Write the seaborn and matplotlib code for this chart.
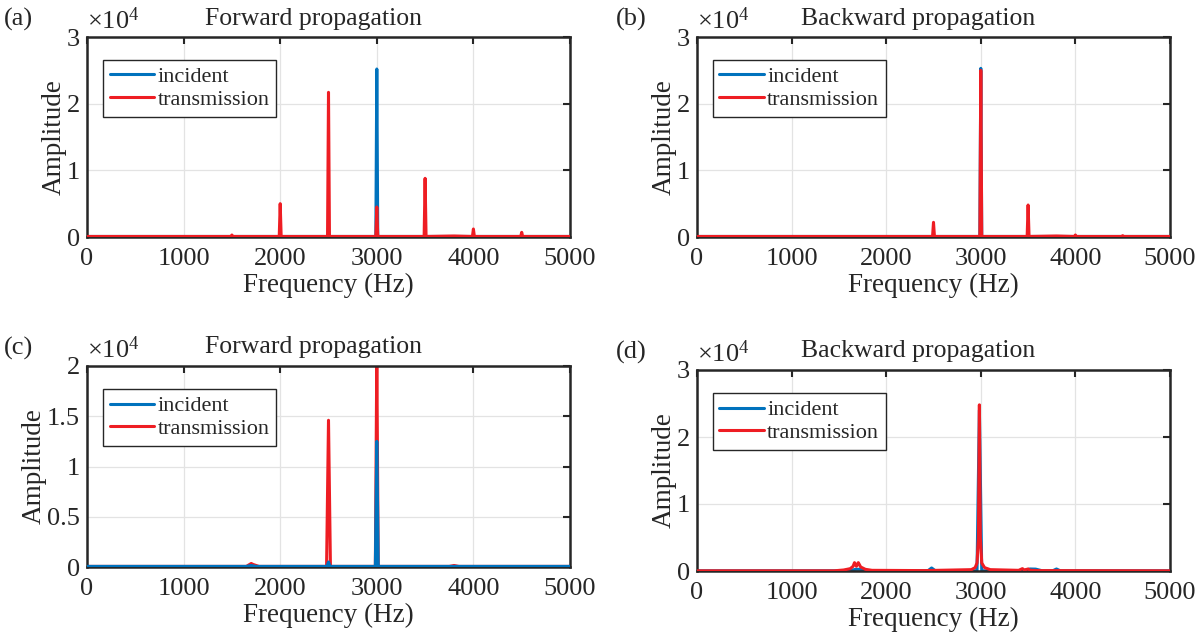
import matplotlib
matplotlib.use("Agg")
import matplotlib.pyplot as plt
import seaborn as sns
import numpy as np
import pandas as pd
from matplotlib.ticker import FuncFormatter

sns.set_theme(style="white")
plt.rcParams['font.family'] = ['Liberation Serif', 'DejaVu Serif']
plt.rcParams['mathtext.fontset'] = 'custom'
plt.rcParams['mathtext.rm'] = 'Liberation Serif'

# ---------------- data (amplitude, raw units) ----------------
# (a) forward propagation
freq_a_inc = [0, 2990, 3000, 3010, 5000]
amp_a_inc = [80, 80, 25200, 80, 80]
freq_a_tr = [0, 1490, 1500, 1510, 1990, 2000, 2010, 2490, 2500, 2510, 2990, 3000, 3010,
             3490, 3500, 3510, 3800, 3990, 4000, 4010, 4490, 4500, 4510, 5000]
amp_a_tr = [80, 80, 300, 80, 80, 5000, 80, 80, 21700, 80, 80, 4500, 80,
            80, 8800, 80, 150, 80, 1200, 80, 80, 700, 80, 80]

# (b) backward propagation
freq_b_inc = [0, 2990, 3000, 3010, 5000]
amp_b_inc = [80, 80, 25300, 80, 80]
freq_b_tr = [0, 2490, 2500, 2510, 2990, 3000, 3010, 3490, 3500, 3510, 3800,
             3990, 4000, 4010, 4490, 4500, 4510, 5000]
amp_b_tr = [80, 80, 2200, 80, 80, 25000, 80, 80, 4800, 80, 150,
            80, 300, 80, 80, 200, 80, 80]

# (c) forward propagation
freq_c_inc = [0, 1650, 1700, 1750, 2485, 2500, 2515, 2985, 3000, 3015, 5000]
amp_c_inc = [60, 60, 150, 60, 60, 500, 60, 60, 12500, 60, 60]
freq_c_tr = [0, 1650, 1700, 1720, 1780, 2480, 2500, 2520, 2985, 3000, 3015,
             3750, 3800, 3850, 5000]
amp_c_tr = [60, 60, 350, 250, 60, 60, 14600, 60, 60, 21000, 60,
            60, 150, 60, 60]

# (d) backward propagation
freq_d_inc = [0, 1600, 1680, 1720, 1800, 2440, 2480, 2520, 2960, 2985, 3010,
              3450, 3520, 3580, 3650, 3760, 3800, 3840, 5000]
amp_d_inc = [30, 30, 250, 250, 30, 30, 450, 30, 30, 24000, 30,
             30, 300, 280, 30, 30, 300, 30, 30]
freq_d_tr = [0, 1450, 1550, 1620, 1650, 1665, 1685, 1705, 1730, 1780, 1850,
             2400, 2900, 2940, 2960, 2975, 2985, 2995, 3010, 3040, 3100,
             3400, 3440, 3460, 3500, 3520, 3600, 5000]
amp_d_tr = [30, 30, 150, 350, 700, 1250, 700, 1250, 600, 250, 100,
            60, 200, 500, 1200, 5000, 24800, 5000, 1200, 500, 200,
            100, 350, 150, 300, 120, 60, 30]

panels = [
    dict(tag='(a)', title='Forward propagation', inc=(freq_a_inc, amp_a_inc),
         tr=(freq_a_tr, amp_a_tr), ymax=30000, yticks=[0, 10000, 20000, 30000], inc_on_top=False),
    dict(tag='(b)', title='Backward propagation', inc=(freq_b_inc, amp_b_inc),
         tr=(freq_b_tr, amp_b_tr), ymax=30000, yticks=[0, 10000, 20000, 30000], inc_on_top=False),
    dict(tag='(c)', title='Forward propagation', inc=(freq_c_inc, amp_c_inc),
         tr=(freq_c_tr, amp_c_tr), ymax=20000, yticks=[0, 5000, 10000, 15000, 20000], inc_on_top=True),
    dict(tag='(d)', title='Backward propagation', inc=(freq_d_inc, amp_d_inc),
         tr=(freq_d_tr, amp_d_tr), ymax=30000, yticks=[0, 10000, 20000, 30000], inc_on_top=False),
]

c_inc = '#0072BD'
c_tr = '#EE1D23'

fig = plt.figure(figsize=(12.04, 6.37), dpi=100)
rects = [
    [87 / 1204, 1 - 237 / 637, 483 / 1204, 200 / 637],
    [697 / 1204, 1 - 237 / 637, 473 / 1204, 200 / 637],
    [87 / 1204, 1 - 567 / 637, 483 / 1204, 201 / 637],
    [697 / 1204, 1 - 571 / 637, 473 / 1204, 201 / 637],
]

for p, r in zip(panels, rects):
    ax = fig.add_axes(r)
    df_inc = pd.DataFrame({'Frequency': p['inc'][0], 'Amplitude': p['inc'][1]})
    df_tr = pd.DataFrame({'Frequency': p['tr'][0], 'Amplitude': p['tr'][1]})
    z_inc, z_tr = (3, 2) if p['inc_on_top'] else (2, 3)
    sns.lineplot(data=df_inc, x='Frequency', y='Amplitude', ax=ax, color=c_inc,
                 lw=2.2, label='incident', zorder=z_inc)
    sns.lineplot(data=df_tr, x='Frequency', y='Amplitude', ax=ax, color=c_tr,
                 lw=2.2, label='transmission', zorder=z_tr)

    ax.set_xlim(0, 5000)
    ax.set_ylim(0, p['ymax'])
    ax.set_xticks([0, 1000, 2000, 3000, 4000, 5000])
    ax.set_yticks(p['yticks'])
    ax.yaxis.set_major_formatter(FuncFormatter(lambda v, pos: f'{v / 1e4:g}'))
    ax.tick_params(direction='in', length=5, width=1.5, labelsize=19, color='#262626',
                   top=True, right=True)
    ax.tick_params(axis='x', pad=8)
    ax.tick_params(axis='y', pad=5)
    ax.grid(True, color='#e3e3e3', lw=0.9)
    ax.set_axisbelow(True)
    for s in ax.spines.values():
        s.set_color('#262626')
        s.set_linewidth(1.8)
    ax.set_xlabel('Frequency (Hz)', fontsize=19.5, labelpad=2)
    ax.set_ylabel('Amplitude', fontsize=19.5, labelpad=0)
    ax.set_title(p['title'], fontsize=18.5, pad=9, x=0.468)
    ax.text(0.0, 1.015, r'$\times\mathregular{10^4}$', transform=ax.transAxes,
            fontsize=19, ha='left', va='bottom')
    ax.text(-0.172, 1.03, p['tag'], transform=ax.transAxes, fontsize=19,
            ha='left', va='bottom')
    leg = ax.legend(loc='upper left', bbox_to_anchor=(0.033, 0.885), fontsize=16,
                    handlelength=2.0, handletextpad=0.15, borderpad=0.3,
                    labelspacing=0.1, fancybox=False, framealpha=1,
                    borderaxespad=0)
    leg.get_frame().set_edgecolor('#262626')
    leg.get_frame().set_linewidth(1.0)

fig.savefig('out.png', dpi=100)
